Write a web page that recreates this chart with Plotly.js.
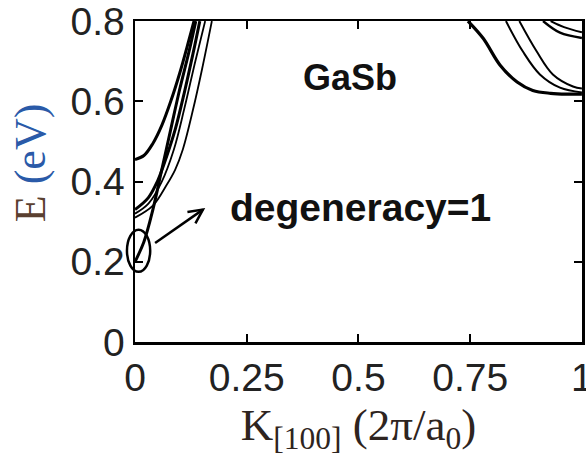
<!DOCTYPE html>
<html>
<head>
<meta charset="utf-8">
<script src="https://cdn.plot.ly/plotly-3.0.1.min.js"></script>
<style>
  html, body { margin: 0; padding: 0; background: #fff; }
  #chart { width: 586px; height: 460px; }
</style>
</head>
<body>
<div id="chart"></div>
<script>
// ---- Data ----
// Gamma-valley subbands near k = 0
const kA  = [0, 0.02, 0.04, 0.06, 0.08, 0.10, 0.12, 0.132];
const eA  = [0.455, 0.465, 0.495, 0.54, 0.60, 0.67, 0.75, 0.80];
const kC  = [0, 0.02, 0.04, 0.06, 0.08, 0.10, 0.12, 0.136];
const eC  = [0.20, 0.25, 0.33, 0.43, 0.53, 0.63, 0.72, 0.80];
const kB1 = [0, 0.03, 0.05, 0.07, 0.09, 0.11, 0.13, 0.145];
const eB1 = [0.33, 0.36, 0.40, 0.46, 0.53, 0.62, 0.72, 0.80];
const kB2 = [0, 0.03, 0.06, 0.087, 0.11, 0.135, 0.157];
const eB2 = [0.32, 0.345, 0.40, 0.48, 0.58, 0.70, 0.80];
const kB3 = [0, 0.04, 0.07, 0.09, 0.107, 0.13, 0.15, 0.172];
const eB3 = [0.31, 0.34, 0.39, 0.43, 0.48, 0.58, 0.68, 0.80];
// X-valley subbands near k = 1
const kR1 = [0.745, 0.779, 0.817, 0.855, 0.89, 0.93, 0.97, 1.0];
const eR1 = [0.80, 0.757, 0.69, 0.648, 0.627, 0.62, 0.618, 0.618];
const kR2 = [0.83, 0.868, 0.906, 0.951, 1.0];
const eR2 = [0.80, 0.724, 0.667, 0.634, 0.622];
const kR3 = [0.86, 0.899, 0.935, 0.98, 1.0];
const eR3 = [0.80, 0.724, 0.667, 0.637, 0.632];
const kR4 = [0.913, 0.951, 1.0];
const eR4 = [0.80, 0.771, 0.758];
const kR5 = [0.93, 0.96, 1.0];
const eR5 = [0.80, 0.785, 0.772];

const xTickVals = [0, 0.25, 0.5, 0.75, 1];
const xTickText = ["0", "0.25", "0.5", "0.75", "1"];
const yTickVals = [0, 0.2, 0.4, 0.6, 0.8];
const yTickText = ["0", "0.2", "0.4", "0.6", "0.8"];

const materialLabel = "GaSb";
const degLabel = "degeneracy=1";

// ---- Traces ----
function band(k, e, w) {
  return { x: k, y: e, type: "scatter", mode: "lines",
           line: { color: "#000", width: w, shape: "spline", smoothing: 1 },
           hoverinfo: "skip", showlegend: false };
}
const traces = [
  band(kA, eA, 3), band(kC, eC, 3), band(kB1, eB1, 3),
  band(kB2, eB2, 1.8), band(kB3, eB3, 1.8),
  band(kR1, eR1, 3.2), band(kR2, eR2, 2), band(kR3, eR3, 2),
  band(kR4, eR4, 2.5), band(kR5, eR5, 2)
];

const axisCommon = {
  showline: true, mirror: "ticks", linecolor: "#000", linewidth: 2.5,
  ticks: "inside", ticklen: 8, tickwidth: 2, tickcolor: "#000",
  showgrid: false, zeroline: false, ticklabeloverflow: "allow",
  tickfont: { family: "Liberation Sans, Arial, sans-serif", size: 39, color: "#222" }
};

// arrow geometry (annotation, not data)
const arrowHead = [0.152, 0.33], arrowTail = [0.045, 0.247];

const layout = {
  width: 586, height: 460,
  margin: { l: 135, r: 4, t: 21, b: 118 },
  paper_bgcolor: "#fff", plot_bgcolor: "#fff",
  showlegend: false,
  xaxis: Object.assign({}, axisCommon, {
    range: [0, 1.0002], tickmode: "array", tickvals: xTickVals, ticktext: xTickText,
    title: { text: "K<sub>[100]</sub> (2π/a<sub>0</sub>)",
             font: { family: "Liberation Serif, Times New Roman, serif", size: 45, color: "#2e2420" },
             standoff: 10 }
  }),
  yaxis: Object.assign({}, axisCommon, {
    range: [0, 0.8002], tickmode: "array", tickvals: yTickVals, ticktext: yTickText
  }),
  shapes: [
    { type: "circle", xref: "paper", yref: "paper",
      x0: -0.018, x1: 0.034, y0: 0.175 / 0.8, y1: 0.28 / 0.8,
      line: { color: "#000", width: 2.5 }, layer: "above" },
    { type: "line", xref: "x", yref: "y",
      x0: arrowTail[0], y0: arrowTail[1], x1: arrowHead[0], y1: arrowHead[1],
      line: { color: "#000", width: 2.5 } },
    { type: "path", xref: "x", yref: "y",
      path: "M0.1352,0.2958 L" + arrowHead[0] + "," + arrowHead[1] + " L0.1173,0.3243",
      line: { color: "#000", width: 2.5 } }
  ],
  annotations: [
    { text: "<span style='color:#5a4030'>E</span> <span style='color:#2a5aa8'>(eV)</span>",
      xref: "paper", yref: "paper", x: -0.235, y: 0.56,
      xanchor: "center", yanchor: "middle", textangle: -90, showarrow: false,
      font: { family: "Liberation Serif, Times New Roman, serif", size: 44 } },
    { text: "<b>" + materialLabel + "</b>", xref: "x", yref: "y", x: 0.481, y: 0.66,
      showarrow: false, xanchor: "center", yanchor: "middle",
      font: { family: "Liberation Sans, Arial, sans-serif", size: 36, color: "#111" } },
    { text: "<b>" + degLabel + "</b>", xref: "x", yref: "y", x: 0.505, y: 0.335,
      showarrow: false, xanchor: "center", yanchor: "middle",
      font: { family: "Liberation Sans, Arial, sans-serif", size: 39, color: "#111" } }
  ]
};

Plotly.newPlot("chart", traces, layout, { staticPlot: true, displayModeBar: false });
</script>
</body>
</html>
